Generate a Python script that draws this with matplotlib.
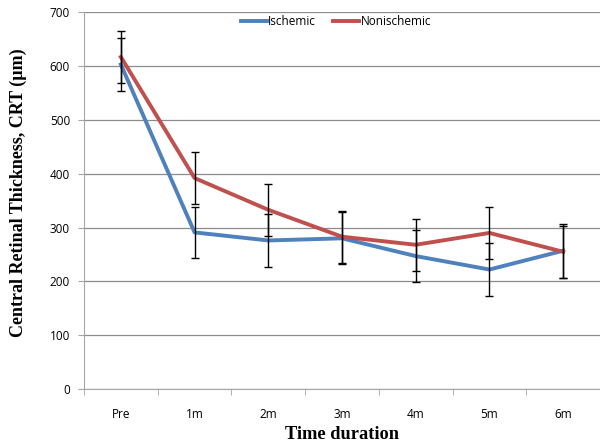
import numpy as np
import matplotlib.pyplot as plt

categories = ['Pre', '1m', '2m', '3m', '4m', '5m', '6m']
ischemic = [603, 291, 276, 280, 247, 222, 257]
ischemic_err = [49, 48, 49, 48, 49, 49, 50]
nonischemic = [617, 392, 333, 283, 268, 290, 255]
nonischemic_err = [48, 48, 48, 48, 48, 48, 48]

blue = '#4F81BD'
red = '#C0504D'
grid_c = '#8C8C8C'
axis_c = '#A6A6A6'

fig = plt.figure(figsize=(6, 4.46), dpi=100)
ax = fig.add_axes([84/600, 57/446, 516/600, 376.7/446])

x = np.arange(len(categories))
ax.plot(x, ischemic, color=blue, lw=2.8, label='Ischemic', zorder=3)
ax.plot(x, nonischemic, color=red, lw=2.8, label='Nonischemic', zorder=3)
ax.errorbar(x, ischemic, yerr=ischemic_err, fmt='none', ecolor='black',
            elinewidth=1, capsize=3, capthick=1, zorder=4)
ax.errorbar(x, nonischemic, yerr=nonischemic_err, fmt='none', ecolor='black',
            elinewidth=1, capsize=3, capthick=1, zorder=4)

ax.set_xlim(-0.5, len(categories) - 0.5)
ax.set_ylim(0, 700)
ax.set_yticks(range(0, 701, 100))
ax.set_xticks(x)
ax.set_xticklabels(categories, fontfamily='Open Sans', fontsize=8.5)
ax.set_xticks(np.arange(-0.5, len(categories) + 0.5, 1), minor=True)
ax.tick_params(axis='x', which='major', length=0, pad=14)
ax.tick_params(axis='x', which='minor', length=4, color=axis_c, direction='out')
ax.tick_params(axis='y', length=4, color=axis_c, pad=6, labelsize=8.5)
for lab in ax.get_yticklabels():
    lab.set_fontfamily('Open Sans')

ax.grid(axis='y', color=grid_c, lw=0.9)
ax.set_axisbelow(True)
for s in ['top', 'right']:
    ax.spines[s].set_visible(False)
for s in ['left', 'bottom']:
    ax.spines[s].set_color(axis_c)

ax.set_ylabel('Central Retinal Thickness, CRT (\u00b5m)', fontfamily='Liberation Serif',
              fontweight='bold', fontsize=13)
ax.yaxis.set_label_coords(-0.11, 0.52)
ax.set_xlabel('Time duration', fontfamily='Liberation Serif', fontweight='bold',
              fontsize=13.2, labelpad=3)

ax.legend(loc='upper center', bbox_to_anchor=(0.488, 1.02), ncol=2, frameon=False,
          handlelength=2.2, handletextpad=0.1, columnspacing=1.5,
          prop={'family': 'Open Sans', 'size': 8.5})

fig.savefig('out.png', dpi=100)
